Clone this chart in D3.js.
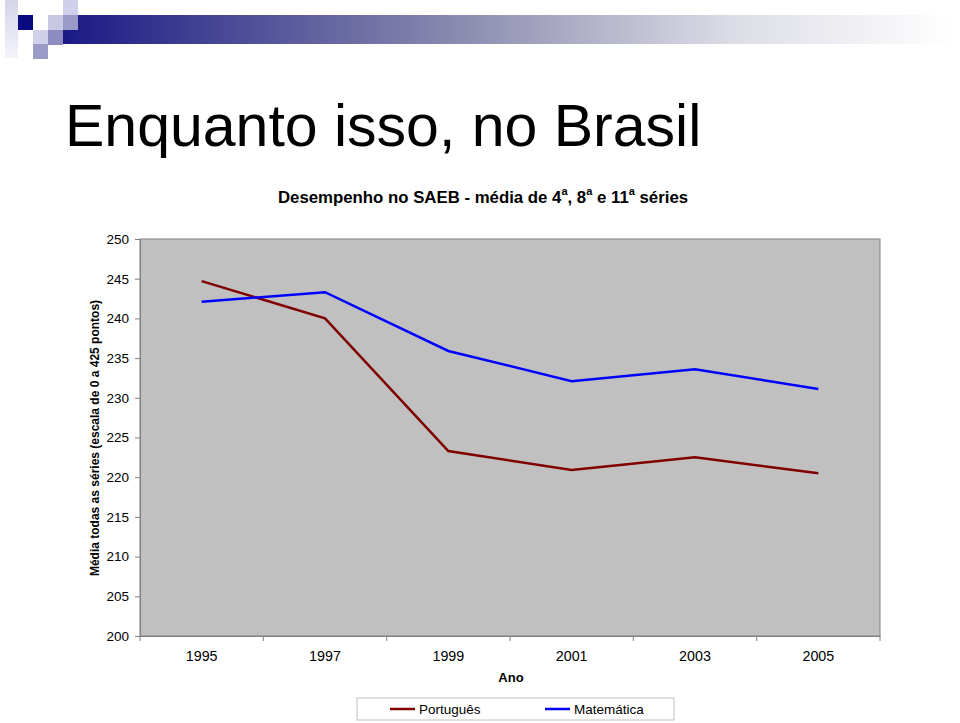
<!DOCTYPE html>
<html><head><meta charset="utf-8">
<script src="https://cdn.jsdelivr.net/npm/d3@7"></script>
<style>body{margin:0;background:#fff;}svg{display:block;font-family:"Liberation Sans",Arial,sans-serif;}</style>
</head><body>
<script>
const years = ["1995","1997","1999","2001","2003","2005"];
const portugues = [244.7, 240.0, 223.3, 220.9, 222.5, 220.5];
const matematica = [242.1, 243.3, 235.9, 232.1, 233.6, 231.1];
const yTicks = [200,205,210,215,220,225,230,235,240,245,250];
const seriesNames = ["Português","Matemática"];
const seriesColors = ["#800000","#0000ff"];

const W=960,H=723;
const svg=d3.select("body").append("svg").attr("width",W).attr("height",H);
const defs=svg.append("defs");
const g1=defs.append("linearGradient").attr("id","bar");
g1.append("stop").attr("offset","0").attr("stop-color","#1a1a85");
g1.append("stop").attr("offset","0.45").attr("stop-color","#8c8cb0");
g1.append("stop").attr("offset","0.75").attr("stop-color","#dcdce6");
g1.append("stop").attr("offset","1").attr("stop-color","#ffffff");
const g2=defs.append("linearGradient").attr("id","vstrip").attr("x1",0).attr("y1",0).attr("x2",0).attr("y2",1);
g2.append("stop").attr("offset","0").attr("stop-color","#d4d4ea");
g2.append("stop").attr("offset","1").attr("stop-color","#f4f4fa");

// decoration
svg.append("rect").attr("x",63).attr("y",15).attr("width",890).attr("height",29).attr("fill","url(#bar)");
svg.append("rect").attr("x",5).attr("y",0).attr("width",13).attr("height",58).attr("fill","url(#vstrip)");
const sq=[[18,15,"#0a0a80"],[48,15,"#c8c8e4"],[63,0,"#d0d0ea"],[63,15,"#9a9ac8"],[33,30,"#d0d0ea"],[48,30,"#8c8cc0"],[33,44,"#9a9ac6"]];
svg.selectAll("rect.sq").data(sq).enter().append("rect").attr("class","sq")
  .attr("x",d=>d[0]).attr("y",d=>d[1]).attr("width",15).attr("height",15).attr("fill",d=>d[2]);

svg.append("text").attr("x",65).attr("y",146).attr("font-size",59).attr("fill","#000").text("Enquanto isso, no Brasil");

// subtitle
const st=svg.append("text").attr("x",483).attr("y",203).attr("text-anchor","middle").attr("font-size",16.8).attr("font-weight","bold");
st.append("tspan").text("Desempenho no SAEB - média de 4");
st.append("tspan").attr("dy",-8).attr("font-size",11).text("a");
st.append("tspan").attr("dy",8).text(", 8");
st.append("tspan").attr("dy",-8).attr("font-size",11).text("a");
st.append("tspan").attr("dy",8).text(" e 11");
st.append("tspan").attr("dy",-8).attr("font-size",11).text("a");
st.append("tspan").attr("dy",8).text(" séries");

const L=140,R=880,T=239,B=636;
const x=d3.scaleBand().domain(years).range([L,R]);
const y=d3.scaleLinear().domain([200,250]).range([B,T]);

svg.append("rect").attr("x",L).attr("y",T).attr("width",R-L).attr("height",B-T).attr("fill","#c0c0c0").attr("stroke","#808080").attr("stroke-width",1);

const ya=svg.append("g").attr("transform",`translate(${L},0)`).call(d3.axisLeft(y).tickValues(yTicks).tickSize(5).tickPadding(6));
ya.select(".domain").attr("stroke","#808080");
ya.selectAll("line").attr("stroke","#808080");
ya.selectAll("text").attr("font-size",13.5).attr("font-family","Liberation Sans, Arial, sans-serif").attr("fill","#000");

const xa=svg.append("g").attr("transform",`translate(0,${B})`).call(d3.axisBottom(x).tickSize(0).tickPadding(15));
xa.select(".domain").attr("stroke","#808080");
xa.selectAll("text").attr("font-size",14.3).attr("font-family","Liberation Sans, Arial, sans-serif").attr("fill","#000");
// tick marks at band boundaries
const bounds=years.map(d=>x(d)).concat([R]);
svg.append("g").selectAll("line").data(bounds).enter().append("line")
  .attr("x1",d=>d).attr("x2",d=>d).attr("y1",B).attr("y2",B+5).attr("stroke","#808080");

svg.append("text").attr("x",511).attr("y",682).attr("text-anchor","middle").attr("font-size",13).attr("font-weight","bold").text("Ano");
svg.append("text").attr("transform","translate(99,438) rotate(-90)").attr("text-anchor","middle").attr("font-size",12).attr("font-weight","bold").text("Média todas as séries (escala de 0 a 425 pontos)");

const line=d3.line().x((d,i)=>x(years[i])+x.bandwidth()/2).y(d=>y(d));
[portugues,matematica].forEach((s,i)=>{
  svg.append("path").datum(s).attr("d",line).attr("fill","none").attr("stroke",seriesColors[i]).attr("stroke-width",2.5);
});

// legend
svg.append("rect").attr("x",357).attr("y",698).attr("width",317).attr("height",22).attr("fill","#fff").attr("stroke","#c0c0c0");
const lx=[390,545];
seriesNames.forEach((n,i)=>{
  svg.append("line").attr("x1",lx[i]).attr("x2",lx[i]+25).attr("y1",709).attr("y2",709).attr("stroke",seriesColors[i]).attr("stroke-width",2.5);
  svg.append("text").attr("x",lx[i]+29).attr("y",714).attr("font-size",13.5).text(n);
});
</script>
</body></html>
